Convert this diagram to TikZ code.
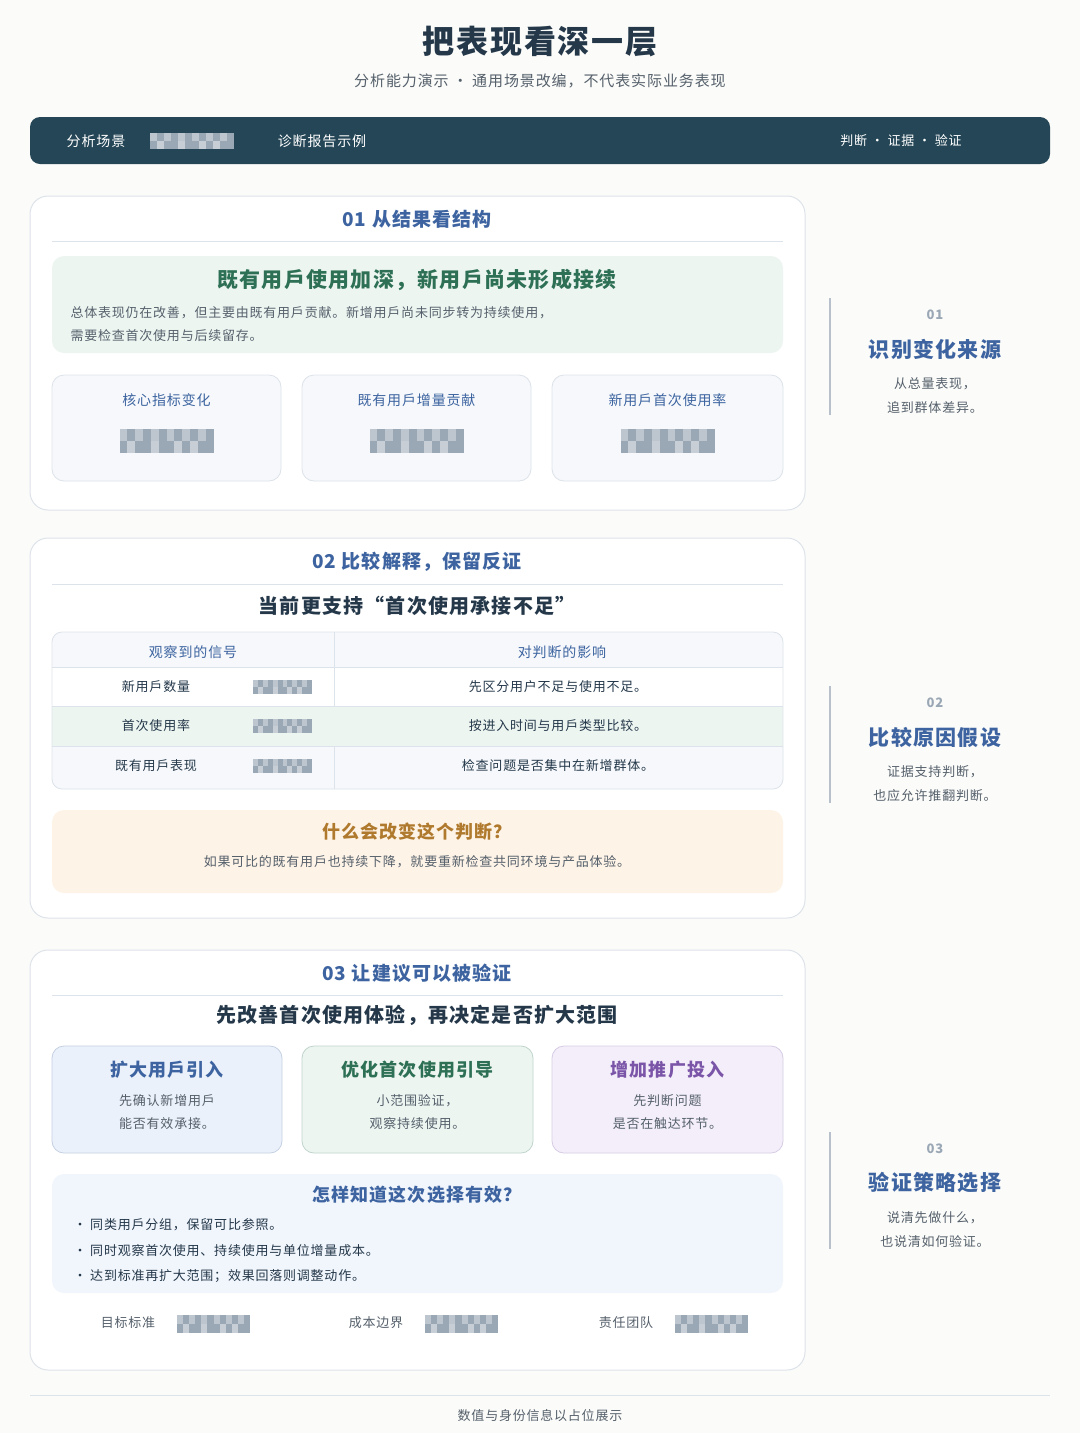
\documentclass[tikz,border=0pt]{standalone}
\usepackage{fontspec}
\setmainfont[LetterSpace=6]{Noto Sans CJK SC}
\usetikzlibrary{positioning}
\definecolor{bgc}{HTML}{FBFBF9}
\definecolor{barc}{HTML}{244656}
\definecolor{bluet}{HTML}{3D64A0}
\definecolor{greent}{HTML}{2E7055}
\definecolor{greenf}{HTML}{EDF5F1}
\definecolor{cardf}{HTML}{F6F8FB}
\definecolor{edgec}{HTML}{DDE3EA}
\definecolor{orangef}{HTML}{FEF3E7}
\definecolor{oranget}{HTML}{B07A2E}
\definecolor{purplef}{HTML}{F3EEF9}
\definecolor{purplet}{HTML}{7B55A8}
\definecolor{bluef}{HTML}{EBF1FB}
\definecolor{greyt}{HTML}{55606B}
\definecolor{mosc}{HTML}{9AA7B5}
\definecolor{darkt}{HTML}{24384A}
\tikzset{panel/.style={draw=edgec,fill=white,rounded corners=18pt,line width=1pt},
         box/.style={draw=edgec,fill=cardf,rounded corners=12pt,line width=0.8pt},
         head/.style={font=\fontsize{19}{22}\selectfont\bfseries,text=bluet},
         body/.style={font=\fontsize{13}{16}\selectfont,text=greyt},
         lab/.style={font=\fontsize{14}{17}\selectfont,text=bluet},
         side/.style={draw=mosc!70,line width=1.5pt},
        }
\newcommand{\mosaic}[4]{% x y w h
  \fill[mosc] (#1,#2) rectangle ++(#3,#4);
  \foreach \i in {0,2,...,10}{\fill[white,opacity=0.35] ({#1+\i*#3/12},#2) rectangle ++({#3/12},{#4/2});}
  \foreach \i in {1,4,7,9}{\fill[white,opacity=0.45] ({#1+\i*#3/12},{#2+#4/2}) rectangle ++({#3/12},{#4/2});}
}
\begin{document}
\begin{tikzpicture}[x=1pt,y=-1pt]
    \fill[bgc] (0,0) rectangle (1080,1433);
    \useasboundingbox (0,0) rectangle (1080,1433);

    \node[font=\fontsize{32}{36}\selectfont\bfseries,text=darkt](title)at(540,42){把表现看深一层};
    \node[body,font=\fontsize{15}{18}\selectfont](sub)at(540,81){分析能力演示 · 通用场景改编，不代表实际业务表现};

    % top bar
    \fill[barc,rounded corners=10pt] (30,117) rectangle (1050,164);
    \node[text=white,font=\fontsize{14}{17}\selectfont](scene)at(96,141){分析场景};
    \mosaic{150}{133}{84}{16}
    \node[text=white,font=\fontsize{14}{17}\selectfont](report)at(322,141){诊断报告示例};
    \node[text=white,font=\fontsize{13}{16}\selectfont](steps)at(901,141){判断 · 证据 · 验证};

    % section 01
    \draw[panel] (30,196) rectangle (805,510);
    \node[head](h1)at(417,219){01 从结果看结构};
    \draw[edgec] (52,241) -- (783,241);
    \fill[greenf,rounded corners=12pt] (52,256) rectangle (783,353);
    \node[text=greent,font=\fontsize{21}{24}\selectfont\bfseries](t1)at(417,280){既有用戶使用加深，新用戶尚未形成接续};
    \node[body,anchor=west](p1)at(67,313){总体表现仍在改善，但主要由既有用戶贡献。新增用戶尚未同步转为持续使用，};
    \node[body,anchor=west](p2)at(67,336){需要检查首次使用与后续留存。};
    \foreach \x/\w/\txt [count=\k] in {52/229/核心指标变化,302/229/既有用戶增量贡献,552/231/新用戶首次使用率}{
        \draw[box] (\x,375) rectangle ++(\w,106);
        \node[lab](m\k)at({\x+\w/2},400){\txt};
        \mosaic{\x+\w/2-47}{429}{94}{24}
    }

    % section 02
    \draw[panel] (30,538) rectangle (805,918);
    \node[head](h2)at(417,562){02 比较解释，保留反证};
    \draw[edgec] (52,584) -- (783,584);
    \node[text=darkt,font=\fontsize{20}{24}\selectfont\bfseries](t2)at(417,606){当前更支持“首次使用承接不足”};
    \fill[cardf,rounded corners=10pt] (52,632) rectangle (783,667);
    \fill[cardf] (52,650) rectangle (783,667) (52,746) rectangle (783,775);
    \fill[cardf,rounded corners=10pt] (52,760) rectangle (783,789);
    \fill[greenf] (52,706) rectangle (783,746);
    \draw[edgec,rounded corners=10pt,line width=0.8pt] (52,632) rectangle (783,789);
    \draw[edgec] (52,667) -- (783,667) (52,706) -- (783,706) (52,746) -- (783,746);
    \draw[edgec] (334,632) -- (334,706) (334,746) -- (334,789);
    \node[lab](c1)at(193,652){观察到的信号};
    \node[lab](c2)at(562,652){对判断的影响};
    \foreach \y/\a/\b [count=\k] in {687/新用戶数量/先区分用户不足与使用不足。,726/首次使用率/按进入时间与用戶类型比较。,766/既有用戶表现/检查问题是否集中在新增群体。}{
        \node[body,text=darkt](r\k)at(156,\y){\a};
        \mosaic{253}{\y-7}{59}{14}
        \node[body,text=darkt](e\k)at(558,\y){\b};
    }
    \fill[orangef,rounded corners=12pt] (52,810) rectangle (783,893);
    \node[text=oranget,font=\fontsize{18}{21}\selectfont\bfseries](q2)at(417,832){什么会改变这个判断？};
    \node[body](a2)at(417,862){如果可比的既有用戶也持续下降，就要重新检查共同环境与产品体验。};

    % section 03
    \draw[panel] (30,950) rectangle (805,1370);
    \node[head](h3)at(417,973){03 让建议可以被验证};
    \draw[edgec] (52,995) -- (783,995);
    \node[text=darkt,font=\fontsize{20}{24}\selectfont\bfseries](t3)at(417,1015){先改善首次使用体验，再决定是否扩大范围};
    \foreach \x/\w/\fc/\tc/\a/\b/\c [count=\k] in {52/230/bluef/bluet/扩大用戶引入/先确认新增用戶/能否有效承接。,
        302/231/greenf/greent/优化首次使用引导/小范围验证，/观察持续使用。,
        552/231/purplef/purplet/增加推广投入/先判断问题/是否在触达环节。}{
        \draw[rounded corners=12pt,draw=\tc!30,fill=\fc,line width=0.8pt] (\x,1046) rectangle ++(\w,107);
        \node[text=\tc,font=\fontsize{18}{21}\selectfont\bfseries](o\k)at({\x+\w/2},1070){\a};
        \node[body](o\k a)at({\x+\w/2},1101){\b};
        \node[body](o\k b)at({\x+\w/2},1124){\c};
    }
    \fill[bluef!70,rounded corners=12pt] (52,1174) rectangle (783,1293);
    \node[text=bluet,font=\fontsize{18}{21}\selectfont\bfseries](q3)at(417,1195){怎样知道这次选择有效？};
    \node[body,text=darkt,anchor=west](b1)at(70,1225){• 同类用戶分组，保留可比参照。};
    \node[body,text=darkt,anchor=west](b2)at(70,1251){• 同时观察首次使用、持续使用与单位增量成本。};
    \node[body,text=darkt,anchor=west](b3)at(70,1276){• 达到标准再扩大范围；效果回落则调整动作。};
    \foreach \x/\txt [count=\k] in {128/目标标准,376/成本边界,626/责任团队}{
        \node[body](f\k)at(\x,1323){\txt};
        \mosaic{\x+49}{1315}{73}{18}
    }

    % side notes
    \foreach \y/\n/\a/\b/\c in {298/01/识别变化来源/从总量表现，/追到群体差异。,
        686/02/比较原因假设/证据支持判断，/也应允许推翻判断。,
        1132/03/验证策略选择/说清先做什么，/也说清如何验证。}{
        \draw[side] (830,\y) -- (830,\y+117);
        \node[body,font=\fontsize{13}{16}\selectfont\bfseries,text=mosc](n\n)at(935,\y+17){\n};
        \node[text=bluet,font=\fontsize{21}{24}\selectfont\bfseries](s\n)at(935,\y+51){\a};
        \node[body](s\n a)at(935,\y+86){\b};
        \node[body](s\n b)at(935,\y+110){\c};
    }

    \draw[edgec] (30,1395) -- (1050,1395);
    \node[body](foot)at(540,1416){数值与身份信息以占位展示};
\end{tikzpicture}
\end{document}
